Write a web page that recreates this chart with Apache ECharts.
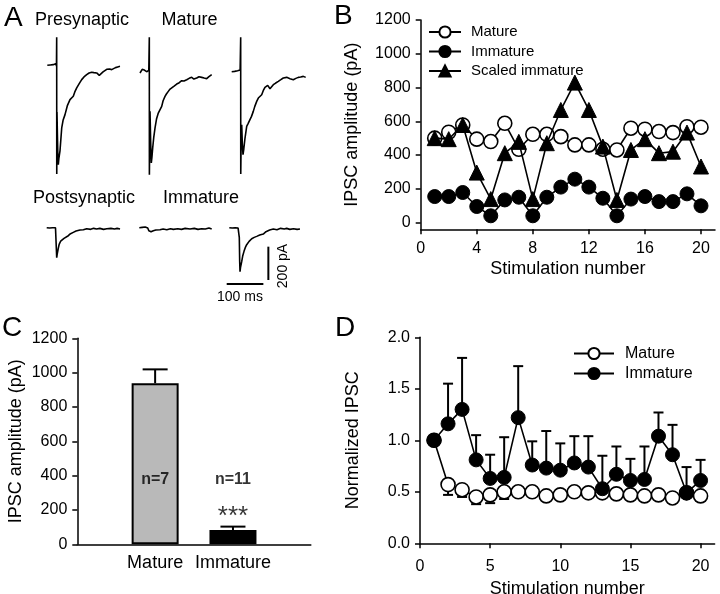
<!DOCTYPE html>
<html>
<head>
<meta charset="utf-8">
<script src="https://cdn.jsdelivr.net/npm/echarts@6/dist/echarts.min.js"></script>
<style>html,body{margin:0;padding:0;background:#fff}#c{width:720px;height:594px}</style>
</head>
<body>
<div id="c"></div>
<script>
// ---------------- DATA ----------------
// Panel B: IPSC amplitude (pA) per stimulation number
const stimulation = [1,2,3,4,5,6,7,8,9,10,11,12,13,14,15,16,17,18,19,20];
const matureB   = [500,535,578,494,480,588,434,523,523,509,460,460,434,430,559,553,539,533,568,565];
const immatureB = [154,154,178,95,40,134,150,40,150,210,257,210,144,40,139,154,124,124,170,99];
const scaledB   = [500,494,578,296,139,411,478,139,470,667,829,667,450,134,430,494,411,420,533,332];
const ticksB_Y = [0,200,400,600,800,1000,1200];
const ticksB_X = [0,4,8,12,16,20];

// Panel C: mean IPSC amplitude (pA)
const categoriesC = ['Mature','Immature'];
const meanC = [938, 83];
const semC = [81, 20];
const nLabelsC = ['n=7','n=11'];
const sigC = ['', '***'];

// Panel D: normalized IPSC
const matureD   = [1.0,0.57,0.52,0.45,0.47,0.50,0.50,0.50,0.46,0.47,0.50,0.49,0.49,0.48,0.47,0.46,0.47,0.44,0.49,0.46];
const matureDErr= [0,0.10,0.07,0.07,0.08,0.07,0.04,0.04,0.04,0.04,0.04,0.04,0.04,0.03,0.04,0.04,0.03,0.04,0.04,0.05];
const immatureD = [1.0,1.16,1.30,0.81,0.63,0.64,1.22,0.76,0.73,0.71,0.78,0.74,0.53,0.67,0.61,0.62,1.04,0.86,0.49,0.61];
const immatureDErr = [0,0.39,0.50,0.24,0.23,0.39,0.50,0.23,0.36,0.26,0.26,0.30,0.32,0.27,0.21,0.32,0.23,0.29,0.25,0.20];
const ticksD_X = [0,5,10,15,20];

// Panel A: example traces, [time ms, current pA]
const tracePre1 = [[0,0],[4,-4],[8,2],[12,-2],[16,4],[20,6],[23,10],[25,-4],[25.6,0],[25.6,168],[25.8,-652],[26.4,-280],[27.6,-420],[29,-560],[30,-596],[31.5,-560],[34.6,-514],[39.3,-376],[43,-330],[48.3,-296],[55,-240],[61.9,-206],[66,-200],[70.9,-186],[75,-160],[80.2,-136],[87,-110],[93.8,-86],[100,-70],[107.4,-56],[114,-46],[121,-42],[127,-44],[134.7,-46],[141.8,-60],[147,-48],[152,-40],[157.4,-32],[162,-24],[166.4,-12],[170,-22],[175.6,-26],[181,-18],[186,-14],[192,-10],[198.2,-6]];
const tracePre2 = [[0,-14],[3,-4],[6,8],[9,16],[12,4],[15,-2],[18,-6],[21,6],[24,2],[25.4,0],[25.4,200],[25.6,-624],[27.3,-244],[29,-420],[30.8,-554],[32.5,-520],[34.6,-464],[37.5,-400],[40.9,-344],[45,-290],[49.9,-254],[54,-236],[59.2,-214],[63,-180],[68.2,-154],[72,-140],[77.2,-124],[82,-110],[86.5,-100],[93,-92],[100.1,-80],[107,-72],[113.7,-60],[120,-62],[127.4,-54],[134,-46],[141,-40],[147,-50],[154.6,-44],[161,-36],[168.3,-40],[175,-44],[181.9,-48],[188,-36],[195.5,-24]];
const tracePre3 = [[0,-6],[4,0],[8,-4],[12,2],[16,0],[20,6],[23,4],[24.5,0],[24.5,200],[24.7,-620],[26,-380],[27.3,-324],[29,-440],[30.8,-504],[33,-470],[36.3,-404],[40.9,-334],[45,-316],[49.9,-304],[54,-274],[58.9,-244],[63,-214],[68.2,-184],[72.6,-164],[77,-154],[81.8,-144],[86,-120],[90.7,-100],[94,-92],[98.2,-88],[104.4,-108],[108,-96],[113.5,-84],[120,-74],[127.1,-64],[134,-54],[140.7,-44],[145,-40],[150,-40],[155,-46],[159,-48],[168,-54],[175,-46],[181.6,-40],[188,-38],[195.3,-34],[201.8,-40]];
const tracePost1 = [[0,0],[4,4],[8,-2],[12,4],[16,0],[20,4],[24,0],[25.4,-4],[26.2,-120],[27.3,-180],[28.5,-160],[31.6,-124],[34,-100],[38.2,-80],[42,-72],[47.2,-64],[52,-56],[58.9,-48],[65,-36],[72.5,-28],[80,-20],[90.8,-14],[100,-12],[109,-6],[120,-10],[128,-4],[136,-8],[145,-4],[155,-10],[164,-6],[175,-4],[185,-8],[192,-4],[200,-8]];
const tracePost2 = [[0,0],[4,-4],[8,2],[12,0],[16,4],[20,0],[23,-2],[24.5,-4],[26,-18],[29.2,-28],[32,-24],[38.2,-18],[45,-14],[56.4,-12],[65,-8],[75,-12],[85,-6],[92.7,-10],[105,-6],[115,-10],[125,-4],[138.3,-8],[150,-4],[160,-10],[170,-6],[180,-8],[190,-2],[197.4,-8]];
const tracePost3 = [[0,0],[4,4],[8,-2],[12,2],[16,0],[20,4],[24,-2],[26,-4],[27.3,-60],[28.3,-200],[29.2,-264],[30.5,-240],[33.8,-204],[36.5,-170],[40.1,-142],[43.5,-120],[47.4,-102],[54,-82],[61.1,-66],[68,-58],[74.7,-52],[83,-44],[92.7,-38],[100,-24],[110,-14],[120,-8],[130,-12],[140,-4],[150,-8],[156.5,-4],[165,-10],[175,-6],[185,-10],[192.8,-8]];
const scaleBarTime = 100;   // ms
const scaleBarCurrent = 200; // pA

// ---------------- LAYOUT ----------------
const FONT = "'Liberation Sans', Arial, Helvetica, sans-serif";
const MS_PER_PX = 2.727, PA_PER_PX = 6, TRACE_T = 205;
function traceGrid(left, baseline, yMin, yMax){
  return {left: left, top: baseline - yMax / PA_PER_PX, width: TRACE_T / MS_PER_PX,
          height: (yMax - yMin) / PA_PER_PX, outerBoundsMode: 'none'};
}
const traceDefs = [
  {data: tracePre1,  grid: traceGrid(47.3, 65.3, -700, 220), yMin: -700, yMax: 220},
  {data: tracePre2,  grid: traceGrid(140, 70.7, -700, 220), yMin: -700, yMax: 220},
  {data: tracePre3,  grid: traceGrid(231.7, 70.7, -700, 220), yMin: -700, yMax: 220},
  {data: tracePost1, grid: traceGrid(46.7, 227.7, -300, 60), yMin: -300, yMax: 60},
  {data: tracePost2, grid: traceGrid(139.3, 227.7, -300, 60), yMin: -300, yMax: 60},
  {data: tracePost3, grid: traceGrid(229.3, 227.7, -300, 60), yMin: -300, yMax: 60}
];

const grids = [], xAxes = [], yAxes = [], series = [];
traceDefs.forEach((t, i) => {
  grids.push(t.grid);
  xAxes.push({type: 'value', gridIndex: i, min: 0, max: TRACE_T, show: false});
  yAxes.push({type: 'value', gridIndex: i, min: t.yMin, max: t.yMax, show: false});
  series.push({type: 'line', xAxisIndex: i, yAxisIndex: i, data: t.data, showSymbol: false,
    symbol: 'none', lineStyle: {color: '#000', width: 1.6}, silent: true, animation: false});
});
// scale bar grid (index 6)
const SB = 6;
grids.push({left: 226.7, top: 284 - 240 / PA_PER_PX, width: 120 / MS_PER_PX, height: 240 / PA_PER_PX, outerBoundsMode: 'none'});
xAxes.push({type: 'value', gridIndex: SB, min: 0, max: 120, show: false});
yAxes.push({type: 'value', gridIndex: SB, min: 0, max: 240, show: false});
series.push({type: 'line', xAxisIndex: SB, yAxisIndex: SB, data: [[0,0],[scaleBarTime,0]], symbol: 'none', lineStyle: {color:'#000', width: 2}, silent: true});
series.push({type: 'line', xAxisIndex: SB, yAxisIndex: SB, data: [[113.6,24],[113.6,24 + scaleBarCurrent]], symbol: 'none', lineStyle: {color:'#000', width: 2}, silent: true});

const axisCommon = {
  axisLine: {show: true, onZero: false, lineStyle: {color: '#000', width: 1.5}},
  axisTick: {show: true, length: 5, inside: false, lineStyle: {color: '#000', width: 1.5}},
  splitLine: {show: false},
  axisLabel: {color: '#000', fontSize: 16, fontFamily: FONT},
  nameTextStyle: {color: '#000', fontSize: 18, fontFamily: FONT}
};
function ax(extra){ return Object.assign({}, JSON.parse(JSON.stringify(axisCommon)), extra); }
const plain = v => String(v);

// Panel B grid (index 7)
const GB = 7;
grids.push({left: 420.7, top: 20, width: 294.3, height: 209.3, outerBoundsMode: 'none'});
xAxes.push(ax({type: 'value', gridIndex: GB, min: 0, max: 21, name: 'Stimulation number', nameLocation: 'middle', nameGap: 31,
  axisLabel: {color:'#000', fontSize: 16, fontFamily: FONT, margin: 11, customValues: ticksB_X, formatter: plain},
  axisTick: {show: true, length: 5, lineStyle: {color:'#000', width: 1.5}, customValues: ticksB_X}}));
yAxes.push(ax({type: 'value', gridIndex: GB, min: -40, max: 1200, name: 'IPSC amplitude (pA)', nameLocation: 'middle', nameGap: 60,
  axisLabel: {color:'#000', fontSize: 16, fontFamily: FONT, margin: 10, customValues: ticksB_Y, formatter: plain},
  axisTick: {show: true, length: 5, lineStyle: {color:'#000', width: 1.5}, customValues: ticksB_Y}}));
const pairs = arr => arr.map((v, i) => [stimulation[i], v]);
const openSym = {color: '#fff', borderColor: '#000', borderWidth: 1.6};
const fillSym = {color: '#000', borderColor: '#000', borderWidth: 1};
series.push({name: 'Mature', type: 'line', xAxisIndex: GB, yAxisIndex: GB, data: pairs(matureB), symbol: 'circle', symbolSize: 14,
  lineStyle: {color: '#000', width: 1.6}, itemStyle: openSym, z: 2});
series.push({name: 'Immature', type: 'line', xAxisIndex: GB, yAxisIndex: GB, data: pairs(immatureB), symbol: 'circle', symbolSize: 14,
  lineStyle: {color: '#000', width: 1.6}, itemStyle: fillSym, z: 3});
series.push({name: 'Scaled immature', type: 'line', xAxisIndex: GB, yAxisIndex: GB, data: pairs(scaledB), symbol: 'triangle', symbolSize: 15,
  lineStyle: {color: '#000', width: 1.6}, itemStyle: fillSym, z: 4});

// Panel C grid (index 8)
const GC = 8;
const catAxisC = [''].concat(categoriesC).concat(['']);
grids.push({left: 77.3, top: 338.3, width: 233.5, height: 206, outerBoundsMode: 'none'});
xAxes.push(ax({type: 'category', gridIndex: GC, data: catAxisC, boundaryGap: false,
  axisTick: {show: false}, axisLabel: {color:'#000', fontSize: 18, fontFamily: FONT, margin: 10, interval: 0}}));
yAxes.push(ax({type: 'value', gridIndex: GC, min: 0, max: 1200, interval: 200, name: 'IPSC amplitude (pA)', nameLocation: 'middle', nameGap: 52,
  axisLabel: {color:'#000', fontSize: 16, fontFamily: FONT, margin: 10, formatter: plain}}));
const barColors = ['#b9b9b9', '#000000'];
series.push({type: 'bar', xAxisIndex: GC, yAxisIndex: GC, barWidth: 47,
  data: catAxisC.map((c, i) => {
    const k = categoriesC.indexOf(c);
    if (!c || k < 0) return null;
    return {value: meanC[k], itemStyle: {color: barColors[k], borderColor: '#000', borderWidth: 2}};
  }), z: 2});
function errRender(capHalf, width){
  return function(params, api){
    const x = api.value(0), y0 = api.value(1), y1 = api.value(2);
    const p0 = api.coord([x, y0]), p1 = api.coord([x, y1]);
    return {type: 'group', children: [
      {type: 'line', shape: {x1: p0[0], y1: p0[1], x2: p1[0], y2: p1[1]}, style: {stroke: '#000', lineWidth: width}},
      {type: 'line', shape: {x1: p1[0] - capHalf, y1: p1[1], x2: p1[0] + capHalf, y2: p1[1]}, style: {stroke: '#000', lineWidth: width}}
    ]};
  };
}
series.push({type: 'custom', xAxisIndex: GC, yAxisIndex: GC, renderItem: errRender(12.5, 2), z: 1,
  encode: {x: 0, y: [1, 2]},
  data: categoriesC.map((c, k) => [k + 1, meanC[k], meanC[k] + semC[k]])});
// n labels and significance
series.push({type: 'scatter', xAxisIndex: GC, yAxisIndex: GC, symbolSize: 0, silent: true, z: 5,
  data: categoriesC.map((c, k) => ({value: [k + 1, 375], label: {show: true, formatter: nLabelsC[k], position: 'inside',
    color: '#000', fontSize: 16, fontWeight: 'bold', fontFamily: FONT}}))});
series.push({type: 'scatter', xAxisIndex: GC, yAxisIndex: GC, symbolSize: 0, silent: true, z: 5,
  data: categoriesC.map((c, k) => ({value: [k + 1, 160], label: {show: !!sigC[k], formatter: sigC[k] || ' ', position: 'inside',
    color: '#000', fontSize: 26, fontFamily: FONT}}))});

// Panel D grid (index 9)
const GD = 9;
grids.push({left: 420, top: 337.3, width: 294.6, height: 206, outerBoundsMode: 'none'});
xAxes.push(ax({type: 'value', gridIndex: GD, min: 0, max: 21, name: 'Stimulation number', nameLocation: 'middle', nameGap: 37,
  axisLabel: {color:'#000', fontSize: 16, fontFamily: FONT, margin: 15, customValues: ticksD_X, formatter: plain},
  axisTick: {show: true, length: 5, lineStyle: {color:'#000', width: 1.5}, customValues: ticksD_X}}));
yAxes.push(ax({type: 'value', gridIndex: GD, min: 0, max: 2, interval: 0.5, name: 'Normalized IPSC', nameLocation: 'middle', nameGap: 58,
  axisLabel: {color:'#000', fontSize: 16, fontFamily: FONT, margin: 10, formatter: v => v.toFixed(1)}}));
series.push({type: 'custom', xAxisIndex: GD, yAxisIndex: GD, renderItem: errRender(5, 2), z: 1,
  encode: {x: 0, y: [1, 2]},
  data: matureD.map((v, i) => [stimulation[i], v, v - matureDErr[i]]).filter((d, i) => matureDErr[i] > 0)});
series.push({type: 'custom', xAxisIndex: GD, yAxisIndex: GD, renderItem: errRender(5, 2), z: 1,
  encode: {x: 0, y: [1, 2]},
  data: immatureD.map((v, i) => [stimulation[i], v, v + immatureDErr[i]]).filter((d, i) => immatureDErr[i] > 0)});
series.push({name: 'Mature', type: 'line', xAxisIndex: GD, yAxisIndex: GD, data: pairs(matureD), symbol: 'circle', symbolSize: 14,
  lineStyle: {color: '#000', width: 1.6}, itemStyle: openSym, z: 2});
series.push({name: 'Immature', type: 'line', xAxisIndex: GD, yAxisIndex: GD, data: pairs(immatureD), symbol: 'circle', symbolSize: 14,
  lineStyle: {color: '#000', width: 1.6}, itemStyle: fillSym, z: 3});

function txt(text, x, y, size, opts){
  return Object.assign({type: 'text', x: x, y: y, silent: true,
    style: Object.assign({text: text, fill: '#000', font: size + 'px ' + FONT, textAlign: 'left', textVerticalAlign: 'middle'}, opts || {})});
}
const graphics = [
  txt('A', 4, 18, 28), txt('B', 334, 16, 28), txt('C', 2, 328, 28), txt('D', 335, 328, 28),
  txt('Presynaptic', 35, 20, 18), txt('Mature', 189.5, 20, 18, {textAlign: 'center'}),
  txt('Postsynaptic', 33, 198, 18), txt('Immature', 201, 198, 18, {textAlign: 'center'}),
  txt('100 ms', 240, 297, 14, {textAlign: 'center'}),
  {type: 'text', x: 283.5, y: 266, rotation: Math.PI / 2, silent: true,
   style: {text: '200 pA', fill: '#000', font: '14px ' + FONT, textAlign: 'center', textVerticalAlign: 'middle'}}
];

const chart = echarts.init(document.getElementById('c'), null, {renderer: 'canvas'});
chart.setOption({
  animation: false,
  backgroundColor: '#fff',
  textStyle: {fontFamily: FONT},
  grid: grids, xAxis: xAxes, yAxis: yAxes, series: series,
  legend: [
    {data: ['Mature','Immature','Scaled immature'], orient: 'vertical', left: 428, top: 24.5, itemWidth: 32, itemHeight: 14, itemGap: 4.5,
     textStyle: {color: '#000', fontSize: 15, fontFamily: FONT, padding: [0,0,0,5]}, selectedMode: false, padding: 0},
    {data: ['Mature','Immature'], orient: 'vertical', left: 573, top: 345.5, itemWidth: 40, itemHeight: 14, itemGap: 4,
     textStyle: {color: '#000', fontSize: 16, fontFamily: FONT, padding: [0,0,0,6]}, selectedMode: false, padding: 0}
  ],
  graphic: graphics
});
</script>
</body>
</html>
